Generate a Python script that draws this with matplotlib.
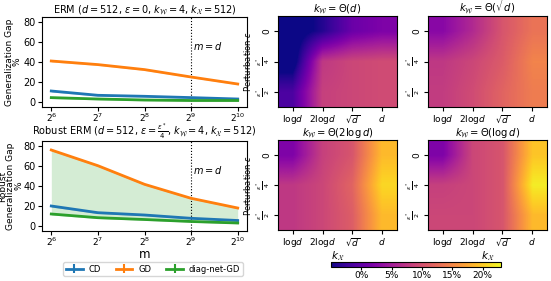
import matplotlib
matplotlib.use("Agg")
import matplotlib.pyplot as plt
import numpy as np

# data
m = [64, 128, 256, 512, 1024]

erm_cd = [11, 6.7, 5.7, 4.4, 3.0]
erm_gd = [41, 37.4, 32.4, 25, 18]
erm_diag = [4.4, 3.0, 2.0, 1.5, 1.5]

rob_cd = [20, 13.3, 11, 7.7, 5.5]
rob_gd = [76, 60.3, 41.7, 27.7, 18]
rob_diag = [12, 8.3, 6.5, 4.5, 3.0]

err = [1.0, 0.8, 0.8, 0.7, 0.7]

kx_labels = [r"log$d$", r"2log$d$", r"$\sqrt{d}$", r"$d$"]
eps_labels = ["0", r"$\frac{\epsilon^*}{4}$", r"$\frac{\epsilon^*}{2}$"]

titles = [r"$k_{\mathcal{W}}=\Theta(d)$", r"$k_{\mathcal{W}}=\Theta(\sqrt{d})$",
          r"$k_{\mathcal{W}}=\Theta(2\log d)$", r"$k_{\mathcal{W}}=\Theta(\log d)$"]

# gap in %, rows = eps (0, e*/4, e*/2), cols = k_x
heat_d = [[-7, -4, 0.6, 2.0],
          [-7, 7.6, 9.0, 9.5],
          [-1.5, 8.4, 9.0, 9.5]]
heat_sqrt = [[2.8, 6.2, 10.4, 13.2],
             [7.6, 9.0, 11.0, 14.6],
             [8.0, 9.5, 11.8, 14.0]]
heat_2log = [[2.0, 8.4, 10.4, 18.8],
             [7.6, 9.0, 11.8, 20.8],
             [7.6, 9.0, 11.2, 18.8]]
heat_log = [[2.0, 9.0, 10.4, 19.6],
            [8.4, 9.0, 10.4, 22.2],
            [9.0, 9.0, 10.4, 18.8]]

W, H = 551, 281
fig = plt.figure(figsize=(W / 100, H / 100), dpi=100)


def box(x0, y0, x1, y1):
    return [x0 / W, 1 - y1 / H, (x1 - x0) / W, (y1 - y0) / H]


C_CD, C_GD, C_DG = "tab:blue", "tab:orange", "tab:green"
fs = 7

ax1 = fig.add_axes(box(42, 17, 247, 107))
ax2 = fig.add_axes(box(42, 141, 247, 231))

for ax, cd, gd, dg in [(ax1, erm_cd, erm_gd, erm_diag), (ax2, rob_cd, rob_gd, rob_diag)]:
    for y, c, lab in [(cd, C_CD, "CD"), (gd, C_GD, "GD"), (dg, C_DG, "diag-net-GD")]:
        y = np.array(y)
        ax.fill_between(m, y - np.array(err), y + np.array(err), color=c, alpha=0.3, lw=0)
        ax.errorbar(m, y, yerr=err, color=c, lw=2, elinewidth=1.5, label=lab)
    ax.set_xscale("log", base=2)
    ax.set_xticks(m)
    ax.set_ylim(-5, 85)
    ax.set_yticks([0, 20, 40, 60, 80])
    ax.axvline(512, color="k", ls=":", lw=0.8)
    ax.text(512 * 1.03, 56, r"$m=d$", fontsize=fs, va="center")
    ax.tick_params(labelsize=fs, length=3, pad=1.5)
    ax.tick_params(axis="x", pad=0.5, labelsize=6.5)
    ax.minorticks_off()

ax2.fill_between(m, rob_diag, rob_gd, color=C_DG, alpha=0.2, lw=0)

ax1.set_title(r"ERM ($d=512$, $\epsilon=0$, $k_{\mathcal{W}}=4$, $k_{\mathcal{X}}=512$)",
              fontsize=fs, pad=2)
ax2.set_title(r"Robust ERM ($d=512$, $\epsilon=\frac{\epsilon^*}{4}$, $k_{\mathcal{W}}=4$, $k_{\mathcal{X}}=512$)",
              fontsize=fs, pad=0.5)
ax1.set_ylabel("Generalization Gap\n%", fontsize=6.5, labelpad=1, linespacing=0.9)
ax2.set_ylabel("Robust\nGeneralization Gap\n%", fontsize=6.5, labelpad=0, linespacing=0.85)
ax2.set_xlabel("m", fontsize=8.5, labelpad=0)

handles, labels = ax2.get_legend_handles_labels()
fig.legend(handles, labels, loc="center", bbox_to_anchor=(153 / W, 1 - 269 / H), ncol=3,
           fontsize=6, handlelength=2, columnspacing=1.8, borderpad=0.3, handletextpad=0.7)

# heatmaps
boxes = [box(278, 16, 397, 107), box(428, 16, 547, 107),
         box(278, 140, 397, 230), box(428, 140, 547, 230)]
vmin, vmax = -5, 23
for i, (b, data, t) in enumerate(zip(boxes, [heat_d, heat_sqrt, heat_2log, heat_log], titles)):
    ax = fig.add_axes(b)
    im = ax.imshow(np.array(data), cmap="plasma", vmin=vmin, vmax=vmax,
                   interpolation="bilinear", aspect="auto")
    ax.set_title(t, fontsize=7.2, pad=1)
    ax.set_xticks(range(4))
    ax.set_xticklabels(kx_labels, fontsize=6.5)
    ax.set_yticks(range(3))
    ax.set_yticklabels(eps_labels, fontsize=6.5, rotation=90, va="center")
    ax.tick_params(length=3, pad=1.5)
    if i % 2 == 0:
        ax.set_ylabel(r"Perturbation $\epsilon$", fontsize=6, labelpad=1)
    if i >= 2:
        ax.set_xlabel(r"$k_{\mathcal{X}}$", fontsize=7.5, labelpad=0)

cax = fig.add_axes(box(331, 262, 501, 267))
cb = fig.colorbar(im, cax=cax, orientation="horizontal", ticks=[0, 5, 10, 15, 20])
cb.ax.set_xticklabels(["0%", "5%", "10%", "15%", "20%"])
cb.ax.tick_params(labelsize=6.5, length=2, pad=1)

fig.savefig("out.png", dpi=100)
